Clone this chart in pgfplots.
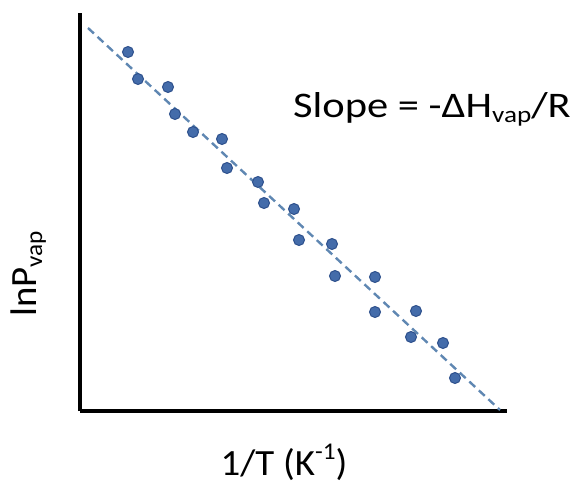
\documentclass[border=0pt]{standalone}
\usepackage{fontspec}
\setmainfont{Carlito}
\usepackage{pgfplots}
\pgfplotsset{compat=1.18}
\definecolor{dotfill}{RGB}{68,108,170}
\definecolor{dotedge}{RGB}{45,80,140}
\definecolor{fitline}{RGB}{95,135,178}

\begin{document}
\begin{tikzpicture}
\begin{axis}[
  scale only axis,
  width=427pt, height=398pt,
  xmin=80, xmax=507, ymin=72, ymax=470,
  axis lines=left,
  axis line style={-, line width=3.5pt, black},
  ticks=none,
  clip=false,
]
% bounding box of the whole figure
\path[use as bounding box] (axis cs:0,0) rectangle (axis cs:573,483);

% least-squares style fit line
\addplot[fitline, line width=2.4pt, dash pattern=on 8pt off 5pt]
  coordinates {(88,455) (500,73)};

% measured points: ln P_vap versus 1/T
\addplot[only marks, mark=*, mark size=5.5pt,
  mark options={fill=dotfill, draw=dotedge, line width=1pt}]
  coordinates {
  (128,431) (138,404) (168,396) (175,369) (193,351)
  (222,344) (227,315) (258,301) (264,280) (294,274)
  (299,243) (332,239) (335,207) (375,206) (375,171)
  (416,172) (411,146) (443,140) (455,105)
  };

\node[anchor=base west, font=\fontsize{36}{36}\selectfont, inner sep=0pt]
  at (axis cs:293,366)
  {\scalebox{1.18}[1]{Slope = -ΔH\raisebox{-0.14em}{\fontsize{23}{23}\selectfont vap}/R}};

\node[anchor=base, font=\fontsize{37}{37}\selectfont, inner sep=0pt]
  at (axis cs:284,8)
  {\scalebox{1.05}[1]{1/T (K\raisebox{0.42em}{\fontsize{24}{24}\selectfont -1})}};

\node[anchor=base, rotate=90, font=\fontsize{37}{37}\selectfont, inner sep=0pt]
  at (axis cs:37,209)
  {\scalebox{1.05}[1]{lnP\raisebox{-0.14em}{\fontsize{24}{24}\selectfont vap}}};
\end{axis}
\end{tikzpicture}
\end{document}
